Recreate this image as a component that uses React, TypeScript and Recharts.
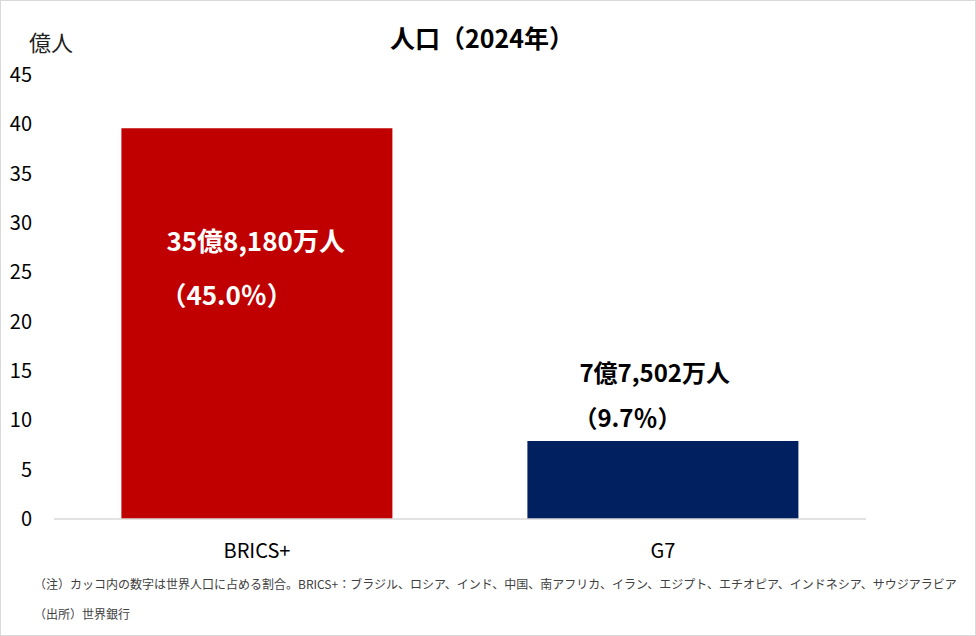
import React from "react";
import { BarChart, Bar, XAxis, YAxis, Cell, LabelList } from "recharts";

const categories = ["BRICS+", "G7"];
const populations = [39.6, 7.9];
const barColors = ["#C00000", "#002060"];
const amountLabels = ["35億8,180万人", "7億7,502万人"];
const shareLabels = ["（45.0％）", "（9.7％）"];
const yTicks = [0, 5, 10, 15, 20, 25, 30, 35, 40, 45];
const titleText = "人口（2024年）";
const unitText = "億人";
const noteLines = [
  "（注）カッコ内の数字は世界人口に占める割合。BRICS+：ブラジル、ロシア、インド、中国、南アフリカ、イラン、エジプト、エチオピア、インドネシア、サウジアラビア",
  "（出所）世界銀行",
];

const data = categories.map((c, i) => ({
  name: c,
  value: populations[i],
  amount: amountLabels[i],
  share: shareLabels[i],
}));

const FONT = "'Noto Sans CJK JP', 'Noto Sans', sans-serif";

const BarLabel = (props: any) => {
  const { x, y, index } = props;
  const inside = index === 0;
  const left = x + (inside ? 45 : 52);
  const fill = inside ? "#ffffff" : "#000000";
  const y1 = inside ? y + 123 : y - 59;
  const y2 = inside ? y + 177 : y - 14;
  const fs = inside ? 26 : 24;
  return (
    <g>
      <text x={left} y={y1} fill={fill} fontSize={fs} fontWeight="bold" fontFamily={FONT} textAnchor="start">
        {amountLabels[index]}
      </text>
      <text x={left - 6} y={y2} fill={fill} fontSize={fs} fontWeight="bold" fontFamily={FONT} textAnchor="start">
        {shareLabels[index]}
      </text>
    </g>
  );
};

export default function App() {
  return (
    <div
      style={{
        position: "fixed",
        left: 0,
        top: 0,
        width: 976,
        height: 636,
        background: "#fff",
        border: "1px solid #d9d9d9",
        boxSizing: "border-box",
        fontFamily: FONT,
      }}
    >
      <div style={{ position: "absolute", left: -1, top: -1 }}>
        <BarChart
          width={976}
          height={636}
          data={data}
          margin={{ top: 75, right: 110, bottom: 77, left: 14 }}
          barCategoryGap="16.6%"
        >
          <XAxis
            dataKey="name"
            axisLine={{ stroke: "#d9d9d9", strokeWidth: 1.5 }}
            tickLine={false}
            tickSize={0}
            tickMargin={25}
            height={40}
            tick={{ fill: "#000", fontSize: 20, fontFamily: FONT }}
          />
          <YAxis
            domain={[0, 45]}
            ticks={yTicks}
            interval={0}
            axisLine={false}
            tickLine={false}
            tickSize={0}
            tickMargin={22}
            width={40}
            tick={{ fill: "#000", fontSize: 20, fontFamily: FONT }}
          />
          <Bar dataKey="value" isAnimationActive={false}>
            {data.map((d, i) => (
              <Cell key={d.name} fill={barColors[i]} />
            ))}
            <LabelList dataKey="amount" content={<BarLabel />} />
          </Bar>
        </BarChart>
      </div>
      <div
        style={{
          position: "absolute",
          left: 0,
          width: 962,
          top: 18,
          textAlign: "center",
          fontSize: 25,
          fontWeight: "bold",
          color: "#000",
          lineHeight: "36px",
        }}
      >
        {titleText}
      </div>
      <div
        style={{
          position: "absolute",
          left: 28,
          top: 25,
          fontSize: 22,
          color: "#222",
          lineHeight: "30px",
        }}
      >
        {unitText}
      </div>
      {noteLines.map((t, i) => (
        <div
          key={i}
          style={{
            position: "absolute",
            left: 33,
            top: 574 + i * 30,
            fontSize: 12,
            color: "#404040",
            lineHeight: "18px",
            whiteSpace: "nowrap",
          }}
        >
          {t}
        </div>
      ))}
    </div>
  );
}
